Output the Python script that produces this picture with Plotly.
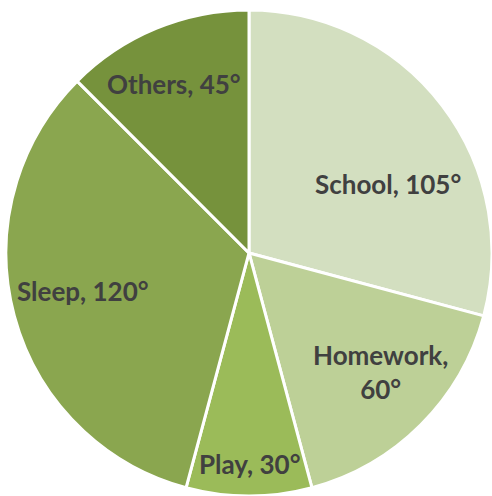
import math
import plotly.graph_objects as go

categories = ["School", "Homework", "Play", "Sleep", "Others"]
degrees = [105, 60, 30, 120, 45]
colors = ["#D3DFC0", "#BDD097", "#9BBB59", "#8AA64F", "#76923C"]
label_text = ["School, 105°", "Homework,<br>60°", "Play, 30°", "Sleep, 120°", "Others, 45°"]

# label placement style: radial fraction and angular nudge (deg) per slice
label_radius = [0.64, 0.73, 0.87, 0.70, 0.76]
label_nudge = [11, -3, 0, 2, -1.5]

W, H = 492, 496
dom_x = [0.0122, 1.0]
dom_y = [0.0, 0.98]

fig = go.Figure(go.Pie(
    labels=categories,
    values=degrees,
    textinfo="none",
    sort=False,
    direction="clockwise",
    rotation=0,
    marker=dict(colors=colors, line=dict(color="white", width=3)),
    domain=dict(x=dom_x, y=dom_y),
    hoverinfo="label+value",
    showlegend=False,
))

# pie geometry (plotly: radius = half of smaller domain side)
px_w = (dom_x[1] - dom_x[0]) * W
px_h = (dom_y[1] - dom_y[0]) * H
R = min(px_w, px_h) / 2
cx = (dom_x[0] + dom_x[1]) / 2 * W
cy_up = (dom_y[0] + dom_y[1]) / 2 * H

total = sum(degrees)
start = 0.0
annotations = []
for val, txt, rf, nd in zip(degrees, label_text, label_radius, label_nudge):
    mid = start + val / total * 360 / 2 + nd
    a = math.radians(mid)
    x = cx + rf * R * math.sin(a)
    y = cy_up + rf * R * math.cos(a)
    annotations.append(dict(
        x=x / W, y=y / H, xref="paper", yref="paper",
        text=txt, showarrow=False, align="center",
        xanchor="center", yanchor="middle",
        font=dict(family="Lato", size=26, color="#404040", weight="bold"),
    ))
    start += val / total * 360

fig.update_layout(
    width=W, height=H,
    margin=dict(l=0, r=0, t=0, b=0),
    paper_bgcolor="white",
    annotations=annotations,
)
fig.write_html("out.html", config={"displayModeBar": False},
               post_script="document.body.style.margin='0';")
